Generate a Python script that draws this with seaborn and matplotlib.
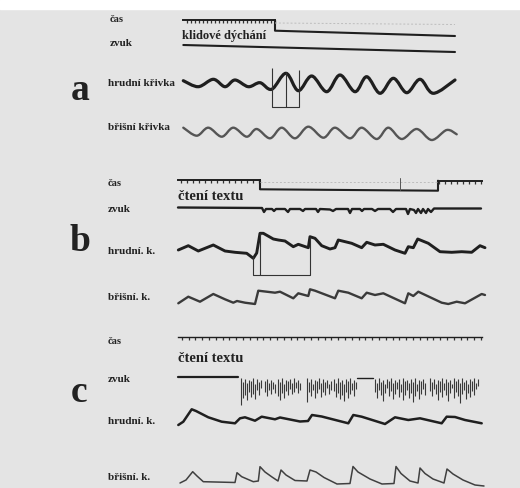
"""Breathing curves (čas / zvuk / hrudní / břišní) for three recordings a, b, c."""

import matplotlib.pyplot as plt
from matplotlib.patches import PathPatch, Rectangle
from matplotlib.path import Path
from matplotlib.ticker import MultipleLocator
import numpy as np
import seaborn as sns

W, H = 520, 488
X0, PX, SPAN = 175, 10, 31.5   # trace start (px), px per second, visible seconds
PAPER = "#e4e4e4"
INK = "#1f1f1f"
TEXT = "#222222"

# ---------- a: klidové dýchání ----------
CAS_A_STEP_T = [10.0, 10.0, 28.0]
CAS_A_STEP_Y = [0.0, -10.7, -16.0]
ZVUK_A_T = [0.83, 28.0]
ZVUK_A_Y = [0.0, -7.0]
HRUD_A_T = [0.83, 2.33, 3.83, 5.0, 6.0, 7.33, 8.5, 9.67, 11.1, 12.33, 13.67,
            15.17, 16.5, 18.0, 19.17, 20.5, 21.83, 23.17, 24.5, 25.83, 28.0]
HRUD_A_Y = [3.3, -2.7, 4.7, -2.7, 4.0, -2.7, 1.3, -5.3, 10.7, -6.7, 8.0,
            -7.7, 9.0, -7.7, 7.3, -9.3, 5.7, -8.7, 4.7, -9.3, 4.0]
BRIS_A_T = [0.83, 2.17, 3.33, 4.67, 5.83, 7.17, 8.17, 9.5, 10.67, 12.0, 13.33,
            14.83, 16.0, 17.5, 18.67, 20.17, 21.33, 22.67, 24.17, 25.67, 27.17, 28.17]
BRIS_A_Y = [5.3, -2.7, 5.3, -3.7, 5.3, -3.7, 4.0, -5.3, 5.3, -5.3, 6.3,
            -4.7, 5.3, -5.3, 5.3, -6.0, 5.3, -6.0, 4.0, -7.0, 3.0, -1.3]
MARK_A_T = [9.67, 11.1, 12.43]
MARK_A_TOP = [15.7, 12.3, 14.0]

# ---------- b: čtení textu ----------
CAS_B_STEP_T = [8.5, 8.5, 26.3, 26.3]
CAS_B_STEP_Y = [0.0, -9.3, -10.7, -0.7]
ZVUK_B_T = [0.3, 8.7, 8.9, 9.1, 9.7, 9.9, 10.1, 11.0, 11.3, 11.5, 12.5, 12.8, 13.0,
            14.1, 14.3, 14.5, 15.5, 15.8, 16.1, 17.3, 17.5, 17.7, 18.5, 18.7, 18.9,
            19.7, 20.0, 20.3, 21.5, 21.8, 22.1, 23.1, 23.3, 23.5, 23.9, 24.1, 24.3,
            24.6, 24.8, 25.1, 25.3, 25.6, 25.9, 30.6]
ZVUK_B_Y = [0.5, 0.0, -4, -1, -1, -3, -1, -1, -4, -1, -1, -3, -1,
            -1, -4, -1, -1.5, -3, -1, -1, -5, -1, -1, -3, -1,
            -1, -3, -1, -1, -4, -1, -1, -6, -1, -2, -5, -1,
            -5, -1, -5, -1, -4, -0.5, -0.5]
HRUD_B_T = [0.33, 1.33, 2.33, 3.83, 5.0, 6.0, 7.17, 7.83, 8.17, 8.5, 8.83, 9.83,
            10.33, 11.0, 11.83, 12.33, 13.33, 13.5, 14.0, 14.67, 15.5, 16.0, 16.33,
            17.67, 18.67, 19.17, 20.0, 20.83, 22.0, 23.0, 23.33, 23.83, 24.27, 25.33,
            26.5, 27.67, 28.67, 29.67, 30.5, 31.0]
HRUD_B_Y = [-3, 1.3, -4, 2, -4, -5.3, -6.3, -11.3, -6, 13.7, 13.7, 8,
            7, 6, 0.3, 2.7, -0.7, 10.3, 8.7, 1.3, -2, -0.7, 7,
            3.7, -0.7, 4.7, 2, 2.7, -3, -6.3, 0.3, -0.7, 8, 3.7,
            -4.7, -5.3, -4.7, -5.3, 1.3, -0.7]
BRIS_B_T = [0.33, 1.33, 2.5, 3.83, 5.0, 5.83, 6.2, 7.0, 8.0, 8.33, 10.0, 10.5,
            11.83, 12.33, 13.33, 13.5, 14.0, 16.0, 16.33, 17.33, 18.67, 19.17,
            20.0, 20.83, 23.0, 23.33, 23.83, 24.33, 26.67, 27.33, 28.17, 29.0,
            30.67, 31.0]
BRIS_B_Y = [-6.3, 0.3, -4.7, 3, -2.3, -5.7, -4, -5.7, -7, 6.3, 4.3, 5.3,
            -1.3, 3.7, 1, 7.7, 6.3, -1.3, 6.3, 4.3, -1.3, 4.3,
            2, 3.7, -6.3, 3.7, 1, 5.3, -5.7, -7, -4.7, -6.3,
            3, 2]
MARK_B_T = [7.77, 8.5, 13.5]
MARK_B_TOP = [-9.0, 14.0, 10.0]

# ---------- c: čtení textu ----------
ZVUK_C_FLAT_T = [0.3, 6.3]
ZVUK_C_FLAT_Y = [0.3, 0.3]
ZVUK_C_GAP_T = [18.2, 19.8]
ZVUK_C_GAP_Y = [-1.0, -1.0]
ZVUK_C_T = [6.6, 6.8, 7.0, 7.2, 7.4, 7.6, 7.8, 8.0, 8.2, 8.4, 8.6,
            9.0, 9.2, 9.4, 9.6, 9.8, 10.0,
            10.3, 10.5, 10.7, 10.9, 11.1, 11.3, 11.5, 11.7, 11.9, 12.1, 12.3, 12.5,
            13.2, 13.4, 13.6, 13.8, 14.0, 14.2, 14.4, 14.6, 14.8, 15.0, 15.2, 15.4, 15.6,
            15.9, 16.1, 16.3, 16.5, 16.7, 16.9, 17.1, 17.3, 17.5, 17.7, 17.9, 18.1,
            20.0, 20.2, 20.4, 20.6, 20.8, 21.0, 21.2, 21.4, 21.6, 21.8, 22.0, 22.2, 22.4,
            22.6, 22.8, 23.0, 23.2, 23.4, 23.6, 23.8, 24.0, 24.2, 24.4, 24.6, 24.8, 25.0,
            25.5, 25.7, 25.9, 26.1, 26.3, 26.5, 26.7, 26.9, 27.1, 27.3, 27.5, 27.7, 27.9,
            28.1, 28.3, 28.5, 28.7, 28.9, 29.1, 29.3, 29.5, 29.7, 29.9, 30.1, 30.3]
ZVUK_C_LOW = [-28, -21, -18, -23, -15, -20, -17, -22, -13, -18, -11,
              -15, -19, -13, -17, -12, -16,
              -19, -23, -16, -21, -14, -18, -12, -17, -15, -11, -16, -13,
              -25, -15, -19, -13, -21, -16, -12, -20, -15, -18, -11, -17, -13,
              -14, -20, -16, -22, -18, -24, -15, -21, -17, -13, -19, -12,
              -15, -21, -13, -18, -24, -16, -11, -19, -14, -22, -17, -12, -20,
              -15, -23, -18, -13, -21, -16, -25, -19, -14, -22, -17, -12, -18,
              -14, -19, -12, -17, -23, -15, -20, -13, -18, -24, -16, -11, -21,
              -15, -19, -26, -17, -13, -22, -16, -20, -14, -18, -12, -9]
ZVUK_C_TOP = [-1, -5, -2, -6, -3, -4, -1, -7, -2, -5, -3,
              -4, -2, -6, -3, -5, -7,
              -2, -5, -1, -7, -3, -4, -2, -6, -1, -5, -3, -6,
              -1, -5, -2, -7, -3, -4, -1, -6, -2, -5, -3, -7, -4,
              -2, -6, -1, -5, -3, -7, -2, -4, -1, -6, -3, -5,
              -2, -6, -1, -5, -3, -7, -2, -4, -1, -6, -3, -5, -2,
              -7, -1, -4, -3, -6, -2, -5, -1, -7, -3, -4, -2, -6,
              -1, -5, -2, -7, -3, -4, -1, -6, -2, -5, -3, -7, -1,
              -4, -2, -6, -1, -5, -3, -7, -2, -4, -1, -6, -2]
HRUD_C_T = [0.33, 0.83, 1.67, 2.1, 3.33, 4.67, 6.0, 6.5, 7.0, 8.0, 8.67, 10.0,
            10.5, 12.5, 13.3, 13.7, 14.67, 17.33, 17.83, 18.67, 21.0, 22.0, 23.33,
            24.5, 26.67, 27.17, 28.0, 29.0, 30.67]
HRUD_C_Y = [-6, -2.7, 9.7, 8, 1.7, -2.7, -4.3, 0.7, 1.7, -1.7, 2.3, -0.3,
            1.5, -2.5, -2, 4, 2.5, -4.3, 4, 2.3, -5, 1.7, -1,
            0.7, -4.3, 2.3, 2, -1, -4.3]
BRIS_C_T = [0.5, 1.1, 1.77, 2.2, 2.83, 6.0, 6.2, 6.67, 7.83, 8.33, 8.5, 9.0, 9.7,
            10.3, 10.6, 11.1, 12.0, 13.2, 13.5, 14.1, 14.9, 16.2, 17.5, 17.8, 18.3,
            19.5, 20.7, 21.9, 22.1, 22.6, 23.5, 24.3, 24.5, 25.0, 25.8, 26.9, 27.2,
            27.8, 28.8, 30.0, 30.9]
BRIS_C_Y = [-6, -3, 5.3, 1, -4.7, -5.5, 4.3, 0.3, -4.7, -4, 10.3, 5, 0,
            -4, 7, 2, -3.5, -4, 7, 5, -0.5, -7, -6.5, 10.5, 5,
            -2, -7, -6.5, 10.5, 3.5, -4, -6, 9, 3.5, -2, -6, 8,
            3, -3, -8, -9]


sns.set_style("white")
plt.rcParams["font.family"] = ["Liberation Serif", "DejaVu Serif"]

fig = plt.figure(figsize=(W / 100, H / 100), dpi=100, facecolor=PAPER)
fig.patches.append(Rectangle((0, 1 - 9 / H), 1, 9 / H, transform=fig.transFigure,
                             color="white", zorder=0))


def row_axes(y, half):
    ax = fig.add_axes([X0 / W, 1 - (y + half) / H, SPAN * PX / W, 2 * half / H])
    ax.set_xlim(0, SPAN)
    ax.set_ylim(-half, half)
    ax.set_axis_off()
    return ax


def trace(ax, t, v, lw, color=INK, **kw):
    sns.lineplot(x=t, y=v, ax=ax, sort=False, estimator=None, legend=False,
                 color=color, linewidth=lw, solid_joinstyle="round",
                 solid_capstyle="round", **kw)


def smooth_trace(ax, t, v, lw, color=INK):
    # same vertices, drawn as a rounded pen stroke (Catmull-Rom -> Bezier)
    p = np.column_stack([t, v])
    verts, codes = [p[0]], [Path.MOVETO]
    for i in range(len(p) - 1):
        a = p[i - 1] if i > 0 else p[i]
        d = p[i + 2] if i + 2 < len(p) else p[i + 1]
        verts += [p[i] + (p[i + 1] - a) / 6, p[i + 1] - (d - p[i]) / 6, p[i + 1]]
        codes += [Path.CURVE4] * 3
    ax.add_patch(PathPatch(Path(verts, codes), fill=False, lw=lw, edgecolor=color,
                           capstyle="round", joinstyle="round"))


def time_marks(t0, t1, y, step, lw=1.4):
    ax = fig.add_axes([(X0 + t0 * PX) / W, 1 - (y + 5) / H, (t1 - t0) * PX / W, 10 / H])
    ax.set_xlim(t0, t1)
    ax.set_ylim(-5, 5)
    ax.patch.set_visible(False)
    for s in ("top", "left", "right"):
        ax.spines[s].set_visible(False)
    ax.spines["bottom"].set_position(("data", 0))
    ax.spines["bottom"].set_linewidth(lw)
    ax.spines["bottom"].set_color(INK)
    ax.xaxis.set_major_locator(MultipleLocator(step))
    ax.tick_params(axis="x", bottom=True, direction="out", length=2.4, width=0.9,
                   color="#333333", labelbottom=False)
    ax.set_yticks([])


def markers(ax, t, tops, bottom):
    ax.vlines(t, bottom, tops, color="#333333", linewidth=0.8)
    ax.plot([t[0], t[-1]], [bottom, bottom], color="#333333", linewidth=0.8)


def label(x, y, s, size=8):
    fig.text(x / W, 1 - y / H, s, ha="left", va="center", fontsize=size,
             fontweight="bold", color=TEXT)


# ----- a -----
time_marks(0.83, 10.0, 20, 0.4)
ax = row_axes(20, 20)
trace(ax, CAS_A_STEP_T, CAS_A_STEP_Y, 1.5)
trace(ax, [10.0, 28.0], [-3.0, -4.5], 0.7, color="#bdbdbd", linestyle=(0, (2, 2)))
ax = row_axes(45, 12)
trace(ax, ZVUK_A_T, ZVUK_A_Y, 1.5)
ax = row_axes(84, 26)
smooth_trace(ax, HRUD_A_T, HRUD_A_Y, 2.3)
markers(ax, MARK_A_T, MARK_A_TOP, -22.7)
ax = row_axes(133, 12)
smooth_trace(ax, BRIS_A_T, BRIS_A_Y, 1.7, color="#555555")

label(110, 20, "čas", 7.5)
label(110, 43, "zvuk")
label(108, 84, "hrudní křivka")
label(108, 127, "břišní křivka")
label(182, 36, "klidové dýchání", 9)
label(71, 91, "a", 27)

# ----- b -----
time_marks(0.3, 8.5, 180, 0.6)
time_marks(26.3, 30.7, 180.7, 0.6)
ax = row_axes(180, 14)
trace(ax, CAS_B_STEP_T, CAS_B_STEP_Y, 1.5)
trace(ax, [8.5, 26.3], [-2.0, -2.0], 0.7, color="#bdbdbd", linestyle=(0, (2, 2)))
trace(ax, [22.5, 22.5], [2.0, -10.0], 0.7, color="#555555")
ax = row_axes(208, 10)
trace(ax, ZVUK_B_T, ZVUK_B_Y, 1.7)
ax = row_axes(247, 30)
trace(ax, HRUD_B_T, HRUD_B_Y, 2.1)
markers(ax, MARK_B_T, MARK_B_TOP, -28.0)
ax = row_axes(297, 12)
trace(ax, BRIS_B_T, BRIS_B_Y, 1.7, color="#3a3a3a")

label(108, 184, "čas", 7.5)
label(108, 209, "zvuk")
label(108, 252, "hrudní. k.")
label(108, 297, "břišní. k.")
label(178, 197, "čtení textu", 10.5)
label(70, 241, "b", 27)

# ----- c -----
time_marks(0.3, 30.7, 337, 0.68, lw=1.0)
ax = row_axes(377, 32)
trace(ax, ZVUK_C_FLAT_T, ZVUK_C_FLAT_Y, 1.6)
trace(ax, ZVUK_C_GAP_T, ZVUK_C_GAP_Y, 1.0)
ax.vlines(ZVUK_C_T, ZVUK_C_LOW, ZVUK_C_TOP, color="#262626", linewidth=0.8, alpha=0.9)
ax = row_axes(419, 14)
trace(ax, HRUD_C_T, HRUD_C_Y, 1.8)
ax = row_axes(477, 12)
trace(ax, BRIS_C_T, BRIS_C_Y, 1.1, color="#404040")

label(108, 341, "čas", 7.5)
label(108, 380, "zvuk")
label(108, 422, "hrudní. k.")
label(108, 477, "břišní. k.")
label(178, 359, "čtení textu", 10.5)
label(71, 393, "c", 27)

fig.savefig("out.png", dpi=100, facecolor=fig.get_facecolor())
